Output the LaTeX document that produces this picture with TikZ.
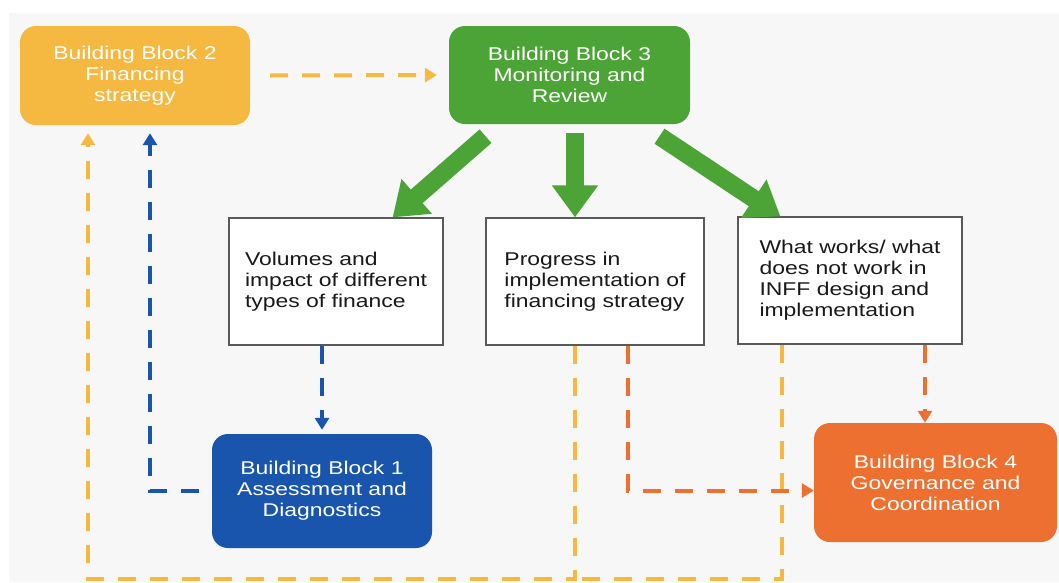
\documentclass[tikz,border=0pt]{standalone}
\usepackage{fontspec}
\setmainfont{Liberation Sans}[FakeStretch=1.24]
\usetikzlibrary{arrows.meta}
\definecolor{bbyellow}{HTML}{F5B840}
\definecolor{bbgreen}{HTML}{4DA436}
\definecolor{bbblue}{HTML}{1A55AD}
\definecolor{bborange}{HTML}{ED7031}
\definecolor{bggray}{HTML}{F7F7F7}
\begin{document}
\begin{tikzpicture}[x=1pt, y=-1pt,
    block/.style={rounded corners=16pt, text=white, align=center,
        font=\fontsize{18.5}{21}\selectfont},
    result/.style={draw=black!65, line width=1.2pt, fill=white, align=left,
        minimum height=127pt, text=black!90, font=\fontsize{18.5}{21}\selectfont},
    bigarrow/.style={bbgreen, line width=18pt, -{Triangle[width=44pt,length=32pt]}},
    link/.style={line width=4pt, dash pattern=on 18pt off 14pt,
        -{Triangle[width=14pt,length=12pt]}},
    plainlink/.style={line width=4pt, dash pattern=on 18pt off 14pt}
]
    \fill[white] (0,0) rectangle (1059,582);
    \fill[bggray] (9,13) rectangle (1059,582);

    \node[block, fill=bbyellow, minimum width=230pt, minimum height=99pt] (bb2) at (135,75.5)
        {Building Block 2\\Financing\\strategy};
    \node[block, fill=bbgreen, minimum width=241pt, minimum height=98pt] (bb3) at (569.5,75)
        {Building Block 3\\Monitoring and\\Review};
    \node[result, minimum width=214pt] (box1) at (336,281.5)
        {Volumes and\\impact of different\\types of finance};
    \node[result, minimum width=218pt] (box2) at (595,281.5)
        {Progress in\\implementation of\\financing strategy};
    \node[result, minimum width=224pt] (box3) at (850,280.5)
        {What works/ what\\does not work in\\INFF design and\\implementation};
    \node[block, fill=bbblue, minimum width=220pt, minimum height=114pt] (bb1) at (322,491)
        {Building Block 1\\Assessment and\\Diagnostics};
    \node[block, fill=bborange, minimum width=243pt, minimum height=119pt] (bb4) at (935.5,482.5)
        {Building Block 4\\Governance and\\Coordination};

    \draw[bigarrow] ([xshift=-84pt,yshift=-12pt]bb3.south) -- ([xshift=-51pt]box1.north east);
    \draw[bigarrow] ([xshift=5.5pt,yshift=-9pt]bb3.south) -- ([xshift=-20pt]box2.north);
    \draw[bigarrow] ([xshift=90pt,yshift=-12pt]bb3.south) -- ([xshift=43pt]box3.north west);

    \draw[link, bbyellow] ([xshift=20pt]bb2.east) -- ([xshift=-12pt]bb3.west);
    \draw[link, bbyellow] ([xshift=-20pt]box2.south) -- ++(0,233)
        -| ([xshift=-47pt,yshift=-8pt]bb2.south);
    \draw[plainlink, bbyellow] ([xshift=-68pt]box3.south) -- ++(0,234) -- ++(-207,0);

    \draw[link, bbblue] (box1.south -| bb1.north) -- ([yshift=4pt]bb1.north);
    \draw[link, bbblue] ([xshift=-13pt]bb1.west) -| ([xshift=15pt,yshift=-8pt]bb2.south);

    \draw[link, bborange] ([xshift=33pt]box2.south) |- ([yshift=-8pt]bb4.west);
    \draw[link, bborange] ([xshift=75pt]box3.south) -- ([xshift=75pt]box3.south |- bb4.north);
\end{tikzpicture}
\end{document}
